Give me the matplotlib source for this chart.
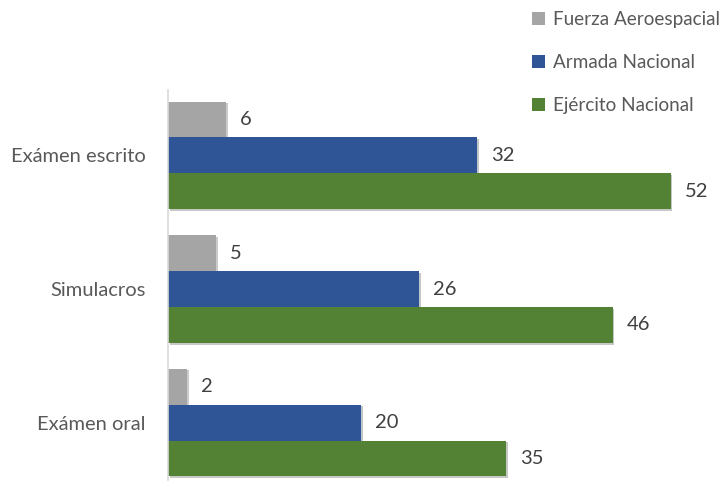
import matplotlib
matplotlib.use("Agg")
import matplotlib.pyplot as plt
import matplotlib.patheffects as pe
import numpy as np

# Data
categorias = ['Exámen escrito', 'Simulacros', 'Exámen oral']
fuerza_aero = [6, 5, 2]
armada = [32, 26, 20]
ejercito = [52, 46, 35]
series = ['Fuerza Aeroespacial', 'Armada Nacional', 'Ejército Nacional']
colores = ['#A5A5A5', '#2F5597', '#548235']

plt.rcParams['font.family'] = ['Lato', 'DejaVu Sans']
texto = '#595959'

fig = plt.figure(figsize=(7.22, 4.86), dpi=100)
ax = fig.add_axes([0.2327, 0.0123, 0.763, 0.8025])

y = np.arange(len(categorias))
h = 0.269
sombra = [pe.SimplePatchShadow(offset=(1.2, -1.2), alpha=0.25), pe.Normal()]

barras = []
for i, (vals, nombre, col) in enumerate(zip([fuerza_aero, armada, ejercito], series, colores)):
    b = ax.barh(y + (i - 1) * h, vals, height=h, color=col, label=nombre,
                path_effects=sombra)
    barras.append(b)
    for rect, v in zip(b, vals):
        ax.annotate(str(v), (rect.get_width(), rect.get_y() + rect.get_height() / 2),
                    xytext=(10, 0), textcoords='offset points', va='center', ha='left',
                    fontsize=14.5, color='#404040')

ax.set_xlim(0, 57)
ax.set_ylim(2.43, -0.49)
ax.set_yticks(y)
ax.set_yticklabels(categorias, fontsize=14.5, color=texto)
ax.tick_params(axis='y', length=0, pad=16)
ax.set_xticks([])
for s in ['top', 'right', 'bottom']:
    ax.spines[s].set_visible(False)
ax.spines['left'].set_color('#D9D9D9')
ax.spines['left'].set_linewidth(1.2)

leg = fig.legend(handles=barras, loc='upper left', bbox_to_anchor=(0.713, 1.012),
                 frameon=False, fontsize=13.6, labelcolor=texto,
                 handlelength=0.7, handleheight=0.7, handletextpad=0.4,
                 labelspacing=1.38)
for hnd in leg.legend_handles:
    hnd.set_path_effects([])

fig.savefig('out.png', dpi=100)
